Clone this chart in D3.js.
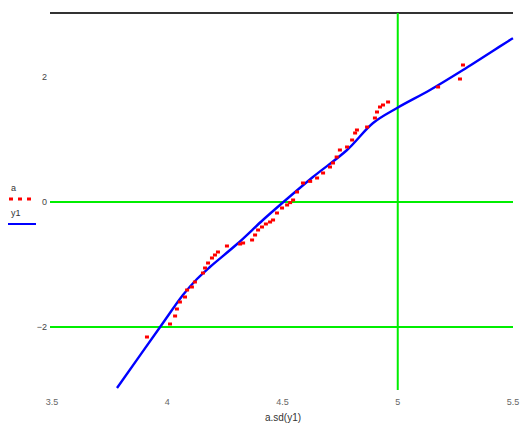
<!DOCTYPE html>
<html>
<head>
<meta charset="utf-8">
<script src="https://cdn.jsdelivr.net/npm/d3@7"></script>
<style>
  body { margin: 0; background: #fff; }
  text { font-family: Arial, "Liberation Sans", sans-serif; }
</style>
</head>
<body>
<div id="chart"></div>
<script>
// svg area
var svgWidth = 523;
var svgHeight = 426;

// data
var xTicks = [3.5, 4, 4.5, 5, 5.5];
var yTicks = [-2, 0, 2];
var markerX = [5];
var markerY = [0, -2];

// fitted curve y1
var fitX = [3.782, 3.969, 4.068, 4.129, 4.185, 4.303, 4.415, 4.489, 4.632, 4.780, 4.893, 4.997, 5.140, 5.283, 5.487, 5.500];
var fitY = [-2.976, -2.0, -1.488, -1.232, -1.04, -0.672, -0.288, -0.048, 0.4, 0.832, 1.264, 1.504, 1.792, 2.112, 2.592, 2.62];

// sample points a
var ptsX = [3.912, 4.012, 4.034, 4.042, 4.055, 4.077, 4.086, 4.107, 4.120, 4.155, 4.164, 4.177, 4.194, 4.207, 4.220,
            4.259, 4.316, 4.329, 4.368, 4.381, 4.394, 4.411, 4.428, 4.446, 4.459, 4.476, 4.498, 4.520, 4.533, 4.546, 4.563, 4.589,
            4.620, 4.650, 4.676, 4.706, 4.719, 4.735, 4.749, 4.780, 4.802, 4.815, 4.823, 4.867, 4.901, 4.910, 4.923, 4.936,
            4.958, 5.175, 5.270, 5.283];
var ptsY = [-2.16, -1.952, -1.824, -1.712, -1.6, -1.52, -1.408, -1.36, -1.28, -1.136, -1.056, -0.976, -0.896, -0.848, -0.8,
            -0.704, -0.672, -0.656, -0.608, -0.528, -0.448, -0.4, -0.352, -0.32, -0.288, -0.176, -0.096, -0.048, -0.01, 0.032, 0.16, 0.304,
            0.33, 0.384, 0.464, 0.56, 0.624, 0.72, 0.832, 0.88, 0.992, 1.104, 1.152, 1.2, 1.344, 1.44, 1.52, 1.552,
            1.6, 1.84, 1.968, 2.192];

var svg = d3.select('#chart')
    .append('svg')
    .attr('width', svgWidth)
    .attr('height', svgHeight);

var xScale = d3.scaleLinear().domain([3.5, 5.5]).range([52, 513]);
var yScale = d3.scaleLinear().domain([-3, 3]).range([389.5, 14.5]);

// top border line
svg.append('line')
    .attr('x1', 50).attr('x2', 513)
    .attr('y1', 13).attr('y2', 13)
    .attr('stroke', '#333')
    .attr('stroke-width', 2);

// green markers
svg.selectAll('.hmark')
    .data(markerY)
    .enter()
    .append('line')
    .attr('x1', 50).attr('x2', 513)
    .attr('y1', d => yScale(d)).attr('y2', d => yScale(d))
    .attr('stroke', '#00ee00')
    .attr('stroke-width', 2);

svg.selectAll('.vmark')
    .data(markerX)
    .enter()
    .append('line')
    .attr('x1', d => xScale(d)).attr('x2', d => xScale(d))
    .attr('y1', 13).attr('y2', 390)
    .attr('stroke', '#00ee00')
    .attr('stroke-width', 2);

// tick labels
svg.selectAll('.xtick')
    .data(xTicks)
    .enter()
    .append('text')
    .attr('x', d => xScale(d))
    .attr('y', 405)
    .attr('text-anchor', 'middle')
    .attr('font-size', 9)
    .attr('fill', '#666')
    .text(d => d3.format('.1~f')(d));

svg.selectAll('.ytick')
    .data(yTicks)
    .enter()
    .append('text')
    .attr('x', 47)
    .attr('y', d => yScale(d) + 3)
    .attr('text-anchor', 'end')
    .attr('font-size', 9)
    .attr('fill', '#444')
    .text(d => d < 0 ? '\u2212' + Math.abs(d) : d);

// fitted line
var line = d3.line()
    .x(d => xScale(d[0]))
    .y(d => yScale(d[1]))
    .curve(d3.curveCatmullRom);

svg.append('path')
    .datum(d3.zip(fitX, fitY))
    .attr('d', line)
    .attr('fill', 'none')
    .attr('stroke', '#0000ff')
    .attr('stroke-width', 2.4);

// sample points
svg.selectAll('.pt')
    .data(d3.zip(ptsX, ptsY))
    .enter()
    .append('rect')
    .attr('x', d => xScale(d[0]) - 2)
    .attr('y', d => yScale(d[1]) - 1.5)
    .attr('width', 4)
    .attr('height', 3)
    .attr('fill', '#ff0000');

// axis label
svg.append('text')
    .attr('x', 283)
    .attr('y', 421)
    .attr('text-anchor', 'middle')
    .attr('font-size', 10)
    .attr('fill', '#333')
    .text('a.sd(y1)');

// legend
svg.append('text')
    .attr('x', 11).attr('y', 191)
    .attr('font-size', 9)
    .attr('fill', '#333')
    .text('a');

svg.append('line')
    .attr('x1', 9).attr('x2', 35)
    .attr('y1', 199).attr('y2', 199)
    .attr('stroke', '#ff0000')
    .attr('stroke-width', 3)
    .attr('stroke-dasharray', '4,5');

svg.append('text')
    .attr('x', 11).attr('y', 216)
    .attr('font-size', 9)
    .attr('fill', '#333')
    .text('y1');

svg.append('line')
    .attr('x1', 8).attr('x2', 36)
    .attr('y1', 224).attr('y2', 224)
    .attr('stroke', '#0000ff')
    .attr('stroke-width', 2);
</script>
</body>
</html>
